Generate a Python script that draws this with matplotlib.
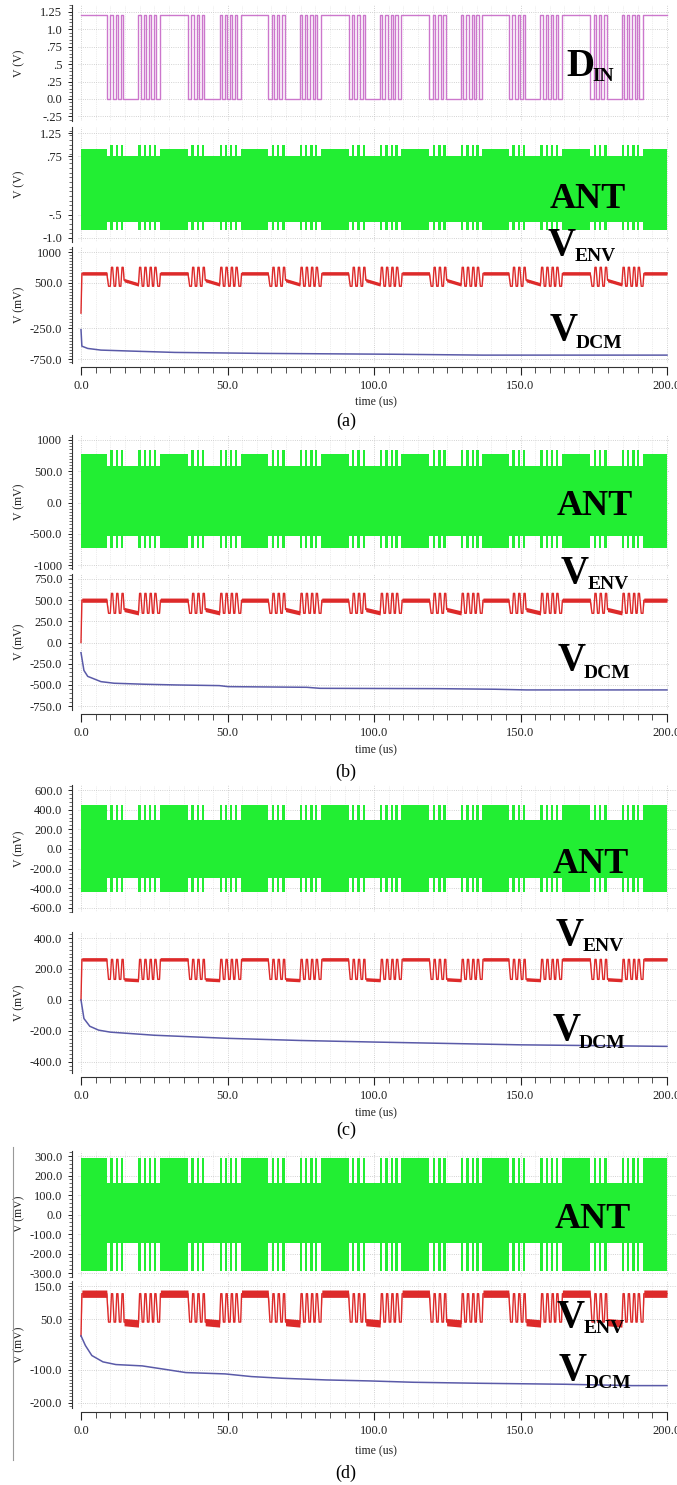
import numpy as np
import matplotlib.pyplot as plt
from matplotlib.ticker import FixedLocator, MultipleLocator
from matplotlib.lines import Line2D

W, H = 677, 1485
plt.rcParams['font.family'] = ['Liberation Serif', 'DejaVu Serif']

# ---------------- data ----------------
# D_IN: time (us) of the falling edge that opens each frame
frame_start = [8.8, 36.5, 63.9, 91.3, 118.9, 146.0, 173.8]
# toggle times inside one frame, relative to its falling edge (us)
frame_edges = [0.0, 1.2, 2.0, 3.0, 3.8, 4.8, 5.6,
               10.8, 11.6, 12.6, 13.4, 14.4, 15.2, 16.0, 16.8, 18.0]
din_hi = 1.2
din_lo = 0.0

# ANT envelope for (a) [V], (b) (c) (d) [mV]
ant_top = [0.90, 775, 445, 290]
ant_top_low = [0.76, 585, 300, 160]
ant_top_spike = [0.99, 840, 445, 290]
ant_bot = [-0.82, -730, -440, -290]
ant_bot_low = [-0.66, -535, -300, -148]

# V_ENV levels [mV]
env_hi = [650, 500, 262, 127]
env_lo_start = [540, 390, 133, 42]
env_lo_end = [470, 350, 128, 38]
env_peak = [750, 580, 262, 127]
env_trough = [440, 345, 133, 42]
env_noise = [28, 25, 11, 11]

# V_DCM [mV]
dcm_t_a = [0, 0.3, 2.3, 6.8, 17, 32, 62, 107, 137, 200]
dcm_v_a = [-270, -540, -577, -604, -620, -642, -658, -672, -686, -686]
dcm_t_b = [0, 1.0, 2.3, 6.8, 11.3, 21.8, 32.2, 47.2, 50.2, 77.1, 81.6, 122, 141.5, 152, 200]
dcm_v_b = [-120, -330, -400, -462, -481, -493, -501, -509, -521, -529, -541, -545, -552, -560, -560]
dcm_t_c = [0, 1, 3, 6, 10, 25, 50, 75, 100, 150, 200]
dcm_v_c = [0, -120, -170, -195, -208, -228, -248, -262, -272, -290, -300]
dcm_t_d = [0, 1.5, 3.7, 7.5, 11.9, 16.4, 20.9, 28.4, 35.8, 49.2, 58.2, 68.6,
           83.6, 98.5, 113.4, 135.8, 165.5, 188, 200]
dcm_v_d = [1, -28, -58, -77, -85, -87, -89, -99, -109, -113, -121, -126,
           -131, -134, -138, -141, -144, -148, -148]
dcm_t = [dcm_t_a, dcm_t_b, dcm_t_c, dcm_t_d]
dcm_v = [dcm_v_a, dcm_v_b, dcm_v_c, dcm_v_d]

# tick labels
yt_din = [1.25, 1.0, 0.75, 0.5, 0.25, 0.0, -0.25]
yl_din = ['1.25', '1.0', '.75', '.5', '.25', '0.0', '-.25']
yt_ant = [[1.25, 0.75, -0.5, -1.0],
          [1000, 500, 0, -500, -1000],
          [600, 400, 200, 0, -200, -400, -600],
          [300, 200, 100, 0, -100, -200, -300]]
yl_ant = [['1.25', '.75', '-.5', '-1.0'],
          ['1000', '500.0', '0.0', '-500.0', '-1000'],
          ['600.0', '400.0', '200.0', '0.0', '-200.0', '-400.0', '-600.0'],
          ['300.0', '200.0', '100.0', '0.0', '-100.0', '-200.0', '-300.0']]
yt_env = [[1000, 500, -250, -750],
          [750, 500, 250, 0, -250, -500, -750],
          [400, 200, 0, -200, -400],
          [150, 50, -100, -200]]
yl_env = [['1000', '500.0', '-250.0', '-750.0'],
          ['750.0', '500.0', '250.0', '0.0', '-250.0', '-500.0', '-750.0'],
          ['400.0', '200.0', '0.0', '-200.0', '-400.0'],
          ['150.0', '50.0', '-100.0', '-200.0']]
xt = [0, 50, 100, 150, 200]
xl = ['0.0', '50.0', '100.0', '150.0', '200.0']
captions = ['(a)', '(b)', '(c)', '(d)']

# ---------------- layout (pixels from top) ----------------
din_box = (5, 121)
din_ylim = (-0.316, 1.35)
ant_box = [(127, 242), (435, 569), (785, 912), (1151, 1277)]
ant_ylim = [(-1.086, 1.38), (-1064, 1080), (-641, 651), (-320, 326)]
env_box = [(247, 363), (574, 710), (932, 1073), (1281, 1408)]
env_ylim = [(-815, 1082), (-797, 809), (-472, 439), (-215, 165)]
right_px = [670, 670, 690, 690]
ant_minor = [0.1, 50, 40, 20]
env_minor = [50, 50, 25, 10]
ant_unit = ['V (V)', 'V (mV)', 'V (mV)', 'V (mV)']
caption_y = [421, 772, 1130, 1473]
time_y = [402, 750, 1113, 1451]
ant_xy = [(550, 208), (557, 515), (553, 873), (555, 1228)]
venv_xy = [(548, 255), (561, 583), (556, 945), (557, 1327)]
vdcm_xy = [(550, 340), (558, 670), (553, 1040), (559, 1380)]

din_color = '#cc77cc'
ant_color = '#22ee33'
env_color = '#dd2a2a'
dcm_color = '#5a5aa8'

# D_IN state changes
seg_t = [0.0]
seg_s = [1]
for f in frame_start:
    for i, e in enumerate(frame_edges):
        seg_t.append(f + e)
        seg_s.append(i % 2)
seg_end = seg_t[1:] + [200.0]

fig = plt.figure(figsize=(W / 100, H / 100), dpi=100)


def add_axes(box, right):
    top, bottom = box
    ax = fig.add_axes([78 / W, 1 - bottom / H, (right - 78) / W, (bottom - top) / H])
    ax.set_xlim((78 - 81) / 2.93, (right - 81) / 2.93)
    return ax


def style(ax, ylim, yt, yl, minor, unit, last=False):
    ax.set_ylim(*ylim)
    for sp in ['top', 'right', 'bottom']:
        ax.spines[sp].set_visible(False)
    ax.spines['left'].set_position(('outward', 4.3))
    ax.spines['left'].set_color('#333333')
    ax.spines['left'].set_linewidth(0.8)
    ax.yaxis.set_major_locator(FixedLocator(yt))
    ax.set_yticklabels(yl)
    ax.yaxis.set_minor_locator(MultipleLocator(minor))
    ax.tick_params(axis='y', which='major', length=3, width=0.7, labelsize=9,
                   pad=4, colors='#222222')
    ax.tick_params(axis='y', which='minor', length=2, width=0.5, colors='#333333')
    ax.set_xticks(xt)
    ax.xaxis.set_minor_locator(MultipleLocator(5))
    ax.grid(which='major', color='#c4c4c4', lw=0.6, ls=':')
    ax.grid(which='minor', axis='x', color='#dcdcdc', lw=0.5, ls=':')
    ax.set_axisbelow(True)
    ax.set_ylabel(unit, fontsize=8.5, color='#222222')
    # right edge of the rotated unit label sits about 25 px from the left border
    w = ax.get_position().width * W
    ax.yaxis.set_label_coords((25 - 78) / w, 0.5)
    if last:
        sp = ax.spines['bottom']
        sp.set_visible(True)
        sp.set_position(('outward', 3))
        sp.set_bounds(0, 200)
        sp.set_color('#333333')
        ax.set_xticklabels(xl)
        ax.tick_params(axis='x', which='major', length=6, width=0.8, labelsize=9,
                       pad=3, colors='#222222')
        ax.tick_params(axis='x', which='minor', length=4, width=0.6, colors='#333333')
    else:
        ax.tick_params(axis='x', which='both', bottom=False, labelbottom=False)


def big(x, y, s, size):
    fig.text(x / W, 1 - y / H, s, fontsize=size, fontweight='bold',
             ha='left', va='baseline', color='black')


# ---- (a) D_IN ----
ax = add_axes(din_box, right_px[0])
din_vals = [din_hi if s else din_lo for s in seg_s] + [din_hi]
ax.plot(seg_t + [200.0], din_vals, drawstyle='steps-post', color=din_color, lw=1)
style(ax, din_ylim, yt_din, yl_din, 0.05, 'V (V)')
big(566, 76, 'D', 28)
big(592, 81, 'IN', 14)

for k in range(4):
    # ANT
    ax = add_axes(ant_box[k], right_px[k])
    up, lo = [], []
    for t0, t1, s in zip(seg_t, seg_end, seg_s):
        if s:
            up.append(ant_top[k] if t1 - t0 > 2 else ant_top_spike[k])
            lo.append(ant_bot[k])
        else:
            up.append(ant_top_low[k])
            lo.append(ant_bot_low[k])
    ax.fill_between(seg_t + [200.0], up + [up[-1]], lo + [lo[-1]], step='post',
                    color=ant_color, lw=0)
    style(ax, ant_ylim[k], yt_ant[k], yl_ant[k], ant_minor[k], ant_unit[k])
    big(ant_xy[k][0], ant_xy[k][1], 'ANT', 26)

    # V_ENV and V_DCM
    ax = add_axes(env_box[k], right_px[k])
    tv, yv, nv = [0.0], [0.0], [0.0]
    for t0, t1, s in zip(seg_t, seg_end, seg_s):
        dur = t1 - t0
        if s:
            a = b = env_hi[k] if dur > 2 else env_peak[k]
        elif dur > 2:
            a, b = env_lo_start[k], env_lo_end[k]
        else:
            a = b = env_trough[k]
        r = 0.3 if dur > 2 else dur * 0.5
        n = env_noise[k] if dur > 2 else 0.0
        tv += [t0 + r, t1]
        yv += [a, b]
        nv += [n, n]
    tv, yv, nv = np.array(tv), np.array(yv), np.array(nv)
    ax.fill_between(tv, yv - nv, yv + nv, color=env_color, lw=0)
    ax.plot(tv, yv, color=env_color, lw=1)
    ax.plot(dcm_t[k], dcm_v[k], color=dcm_color, lw=1.1)
    style(ax, env_ylim[k], yt_env[k], yl_env[k], env_minor[k], 'V (mV)', last=True)

    x, y = venv_xy[k]
    big(x, y, 'V', 28)
    big(x + 27, y + 6, 'ENV', 14)
    x, y = vdcm_xy[k]
    big(x, y, 'V', 28)
    big(x + 26, y + 8, 'DCM', 14)

    fig.text(376 / W, 1 - time_y[k] / H, 'time (us)', fontsize=8.5, ha='center',
             va='center', color='#222222')
    fig.text(346 / W, 1 - caption_y[k] / H, captions[k], fontsize=13, ha='center',
             va='center')

# thin scan border on the left of (d)
fig.add_artist(Line2D([13 / W, 13 / W], [1 - 1147 / H, 1 - 1460 / H],
                      color='#999999', lw=0.8))

fig.savefig('out.png', dpi=100)
